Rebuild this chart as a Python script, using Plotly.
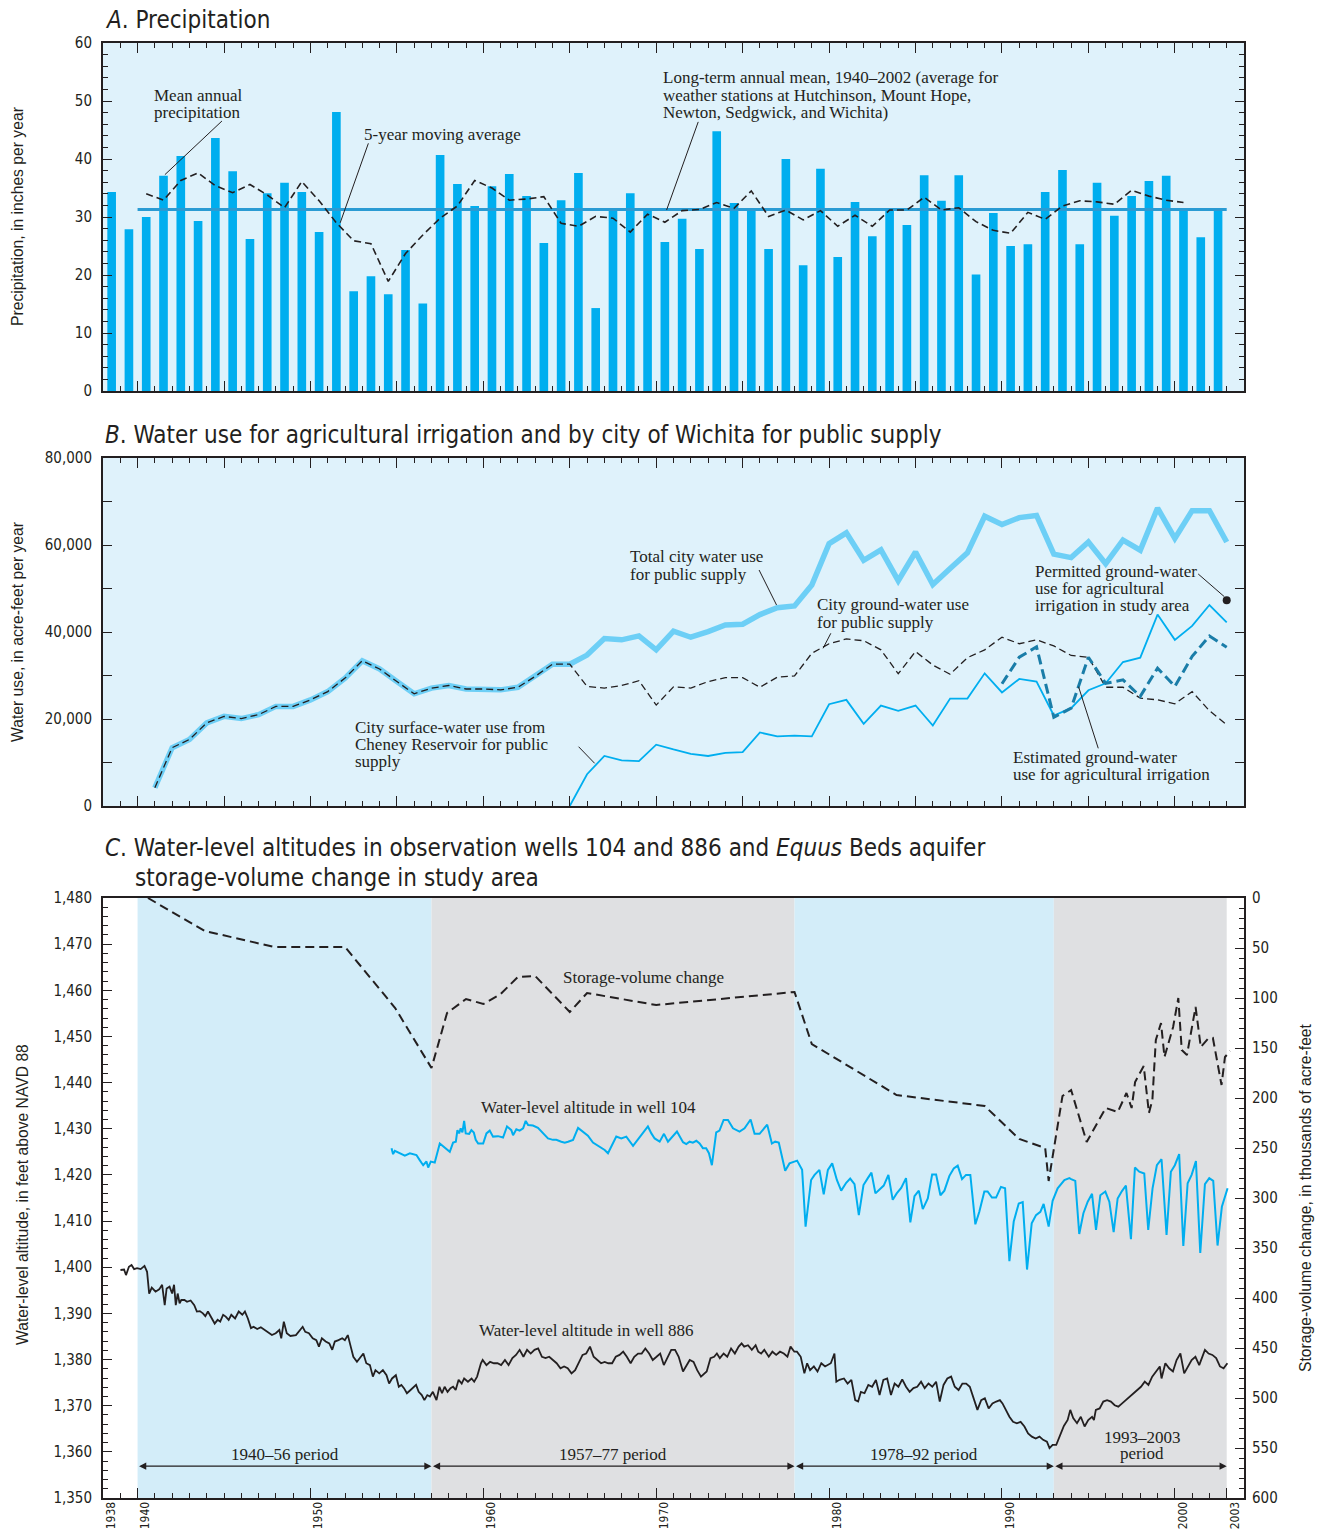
import plotly.graph_objects as go

INK = "#231f20"
COND = "Liberation Sans Narrow, DejaVu Sans Condensed, Arial Narrow, sans-serif"
SERIF = "Liberation Serif, Times New Roman, serif"
SANS = "Liberation Sans, Arial, sans-serif"

# ---------------- Panel A: precipitation ----------------
precip_years = list(range(1938, 2003))
precip_in = [34.3, 27.9, 30.0, 37.1, 40.5, 29.3, 43.6, 37.9, 26.2, 34.1,
             35.9, 34.3, 27.4, 48.1, 17.2, 19.8, 16.7, 24.3, 15.1, 40.7,
             35.7, 31.9, 35.3, 37.4, 33.6, 25.5, 32.9, 37.6, 14.3, 31.3,
             34.1, 31.3, 25.7, 29.7, 24.5, 44.8, 32.4, 31.2, 24.5, 40.0,
             21.7, 38.3, 23.1, 32.6, 26.7, 31.2, 28.6, 37.2, 32.8, 37.2,
             20.1, 30.7, 25.0, 25.3, 34.3, 38.1, 25.3, 35.9, 30.2, 33.6,
             36.2, 37.1, 31.2, 26.5, 31.2]
ma_years = list(range(1940, 2001))
ma_in = [34.0, 32.9, 36.3, 37.6, 35.4, 34.2, 35.6, 33.8, 31.6, 36.1,
         32.8, 29.0, 25.9, 25.4, 18.9, 23.7, 26.9, 29.8, 31.9, 36.3,
         35.0, 32.9, 33.1, 33.5, 28.9, 28.4, 30.1, 29.8, 27.4, 30.5,
         29.1, 31.1, 31.3, 32.5, 31.5, 34.5, 30.1, 31.2, 29.5, 31.1,
         28.4, 30.3, 28.4, 31.2, 31.2, 33.4, 31.2, 31.6, 29.2, 27.7,
         27.2, 30.8, 29.6, 31.9, 32.8, 32.6, 32.2, 34.6, 33.6, 32.9, 32.5]
mean_years = [1940, 2003]
mean_value = 31.3

# ---------------- Panel B: water use ----------------
city_years = list(range(1941, 2004))
total_city = [4200, 13400, 15300, 19100, 20600, 20100, 21000, 22900, 22900, 24400,
              26300, 29400, 33400, 31500, 28600, 25800, 27100, 27700, 26900, 26900,
              26700, 27300, 29800, 32600, 32600, 34700, 38500, 38200, 39100, 35900,
              40200, 38800, 40100, 41600, 41800, 44000, 45600, 46000, 50800, 60300,
              62800, 56500, 58900, 51800, 58400, 50900, 54600, 58200, 66600, 64700,
              66300, 66800, 57900, 57100, 60700, 55700, 61100, 58800, 68500, 61500,
              67900, 67900, 60700]
gw_city = [4200, 13400, 15300, 19100, 20600, 20100, 21000, 22900, 22900, 24400,
           26300, 29400, 33400, 31500, 28600, 25800, 27100, 27700, 26900, 26900,
           26700, 27300, 29800, 32600, 32600, 27500, 27100, 27700, 28800, 23200,
           27400, 27100, 28600, 29500, 29500, 27300, 29600, 29900, 35100, 37300,
           38400, 38000, 35900, 30400, 35500, 32400, 30300, 34100, 35900, 38800,
           37300, 38200, 36800, 34600, 34200, 27300, 27300, 24800, 24400, 23500,
           26300, 21900, 18700]
sw_years = list(range(1965, 2004))
sw_city = [0, 7300, 11500, 10500, 10300, 14100, 13000, 12000, 11500, 12200,
           12400, 16900, 16000, 16200, 16000, 23400, 24400, 18900, 23100, 21900,
           23100, 18500, 24700, 24700, 30500, 26100, 29200, 28600, 20800, 22500,
           26600, 28200, 33100, 34100, 44000, 38200, 41400, 46200, 42200]
irr_years = list(range(1990, 2004))
irr_est = [28100, 34200, 36600, 20400, 22500, 34200, 28200, 29000, 25200, 31700,
           27500, 34400, 39100, 36500]
permit_years = [2003]
permit_val = [47300]

# ---------------- Panel C: water levels & storage ----------------
well104 = [
    (1954.69, 1425.8), (1954.78, 1424.5), (1954.88, 1425.2), (1955.17, 1424.7), (1955.46, 1424.2),
    (1955.75, 1424.7), (1956.13, 1424.3), (1956.32, 1423.2), (1956.52, 1422.1), (1956.71, 1422.9),
    (1956.81, 1421.6), (1956.96, 1422.9), (1957.19, 1422.7), (1957.48, 1426.8), (1957.77, 1425.8),
    (1958.06, 1425.0), (1958.25, 1427.0), (1958.41, 1427.2), (1958.50, 1429.7), (1958.60, 1429.0),
    (1958.69, 1430.1), (1958.79, 1429.2), (1958.89, 1431.7), (1958.98, 1429.0), (1959.18, 1428.9),
    (1959.31, 1429.7), (1959.45, 1429.2), (1959.56, 1427.6), (1959.70, 1426.8), (1959.99, 1426.8),
    (1960.18, 1429.0), (1960.37, 1429.6), (1960.56, 1428.3), (1960.85, 1428.4), (1961.14, 1428.1),
    (1961.37, 1430.5), (1961.62, 1429.7), (1961.72, 1428.6), (1961.91, 1429.9), (1962.10, 1429.6),
    (1962.30, 1430.1), (1962.45, 1431.7), (1962.59, 1430.8), (1962.87, 1430.7), (1963.16, 1430.2),
    (1963.45, 1429.0), (1963.74, 1427.9), (1964.03, 1427.6), (1964.22, 1427.6), (1964.51, 1427.2),
    (1964.71, 1427.0), (1964.90, 1427.2), (1965.19, 1427.6), (1965.48, 1430.2), (1965.77, 1429.4),
    (1966.05, 1428.5), (1966.34, 1427.0), (1966.73, 1426.0), (1967.02, 1425.4), (1967.21, 1424.7),
    (1967.69, 1428.3), (1967.98, 1427.9), (1968.27, 1428.3), (1968.66, 1426.3), (1968.94, 1427.6),
    (1969.23, 1428.9), (1969.52, 1430.5), (1969.72, 1429.0), (1969.91, 1427.9), (1970.20, 1427.2),
    (1970.45, 1428.9), (1970.68, 1427.2), (1970.97, 1428.5), (1971.20, 1429.4), (1971.55, 1427.1),
    (1971.74, 1426.7), (1971.93, 1427.2), (1972.12, 1427.0), (1972.32, 1427.4), (1972.51, 1426.8),
    (1972.70, 1425.8), (1972.89, 1425.8), (1973.05, 1424.7), (1973.22, 1422.1), (1973.47, 1429.2),
    (1973.66, 1429.6), (1973.90, 1431.9), (1974.15, 1431.9), (1974.44, 1430.1), (1974.82, 1429.4),
    (1975.11, 1430.1), (1975.46, 1432.0), (1975.69, 1428.9), (1975.98, 1428.9), (1976.42, 1430.9),
    (1976.69, 1426.8), (1976.88, 1427.2), (1977.09, 1427.0), (1977.46, 1420.9), (1977.71, 1422.5),
    (1978.15, 1423.1), (1978.44, 1421.1), (1978.64, 1408.8), (1978.96, 1418.9), (1979.16, 1420.0),
    (1979.44, 1421.1), (1979.69, 1415.8), (1979.93, 1421.1), (1980.18, 1422.5), (1980.45, 1418.9),
    (1980.70, 1416.6), (1980.99, 1418.3), (1981.22, 1419.2), (1981.47, 1418.0), (1981.72, 1411.3),
    (1981.99, 1417.8), (1982.24, 1419.3), (1982.45, 1420.5), (1982.68, 1416.0), (1982.91, 1416.9),
    (1983.16, 1417.7), (1983.43, 1420.0), (1983.68, 1414.6), (1983.91, 1416.0), (1984.17, 1417.2),
    (1984.45, 1419.3), (1984.70, 1409.7), (1984.94, 1415.4), (1985.19, 1416.6), (1985.42, 1412.6),
    (1985.71, 1414.9), (1985.96, 1420.1), (1986.19, 1420.1), (1986.44, 1415.6), (1986.67, 1416.6),
    (1986.96, 1419.8), (1987.21, 1421.4), (1987.44, 1422.0), (1987.69, 1419.1), (1987.92, 1420.0),
    (1988.17, 1420.0), (1988.46, 1409.3), (1988.69, 1412.0), (1988.98, 1416.4), (1989.17, 1416.4),
    (1989.42, 1415.1), (1989.66, 1415.1), (1989.94, 1417.4), (1990.18, 1417.1), (1990.43, 1401.3),
    (1990.68, 1409.9), (1990.97, 1413.8), (1991.20, 1414.1), (1991.45, 1399.5), (1991.72, 1409.5),
    (1991.97, 1411.3), (1992.22, 1412.0), (1992.41, 1413.7), (1992.70, 1408.8), (1992.93, 1414.4),
    (1993.22, 1417.1), (1993.61, 1418.9), (1993.90, 1419.3), (1994.00, 1419.1), (1994.24, 1418.7),
    (1994.47, 1407.2), (1994.71, 1411.7), (1994.96, 1414.2), (1995.21, 1415.9), (1995.44, 1408.1),
    (1995.69, 1415.6), (1995.98, 1416.4), (1996.21, 1414.2), (1996.46, 1407.6), (1996.69, 1414.9),
    (1996.94, 1416.5), (1997.17, 1417.7), (1997.46, 1406.1), (1997.69, 1421.6), (1997.94, 1420.7),
    (1998.23, 1420.3), (1998.46, 1408.1), (1998.71, 1417.1), (1998.96, 1422.1), (1999.23, 1423.4),
    (1999.52, 1407.0), (1999.77, 1420.7), (2000.00, 1422.1), (2000.25, 1424.5), (2000.49, 1404.6),
    (2000.74, 1418.2), (2000.97, 1420.0), (2001.22, 1423.0), (2001.47, 1403.1), (2001.74, 1418.0),
    (2001.99, 1419.3), (2002.22, 1418.7), (2002.47, 1404.7), (2002.72, 1413.1), (2003.05, 1417.1)]

well886 = [
    (1939.01, 1399.4), (1939.22, 1399.5), (1939.33, 1398.3), (1939.50, 1400.1), (1939.65, 1400.5),
    (1939.80, 1399.6), (1939.97, 1399.8), (1940.18, 1399.6), (1940.40, 1400.3), (1940.55, 1399.0),
    (1940.67, 1394.3), (1940.82, 1395.6), (1941.04, 1394.7), (1941.25, 1395.2), (1941.42, 1396.2),
    (1941.57, 1391.8), (1941.68, 1395.4), (1941.85, 1395.8), (1942.00, 1394.3), (1942.11, 1396.2),
    (1942.21, 1391.8), (1942.32, 1394.3), (1942.43, 1392.2), (1942.53, 1392.9), (1942.71, 1392.9),
    (1942.86, 1392.5), (1943.07, 1392.8), (1943.28, 1391.8), (1943.43, 1390.4), (1943.60, 1390.5),
    (1943.78, 1390.0), (1943.92, 1389.4), (1944.07, 1390.4), (1944.25, 1389.3), (1944.46, 1387.8),
    (1944.63, 1388.6), (1944.78, 1388.2), (1944.95, 1389.7), (1945.10, 1389.3), (1945.27, 1388.6),
    (1945.42, 1389.7), (1945.64, 1388.9), (1945.85, 1390.4), (1946.06, 1389.7), (1946.21, 1390.4),
    (1946.38, 1388.9), (1946.56, 1386.8), (1946.71, 1387.1), (1946.92, 1386.6), (1947.13, 1387.0),
    (1947.35, 1386.4), (1947.56, 1385.7), (1947.77, 1385.3), (1947.99, 1385.7), (1948.20, 1386.4),
    (1948.31, 1384.6), (1948.46, 1388.2), (1948.63, 1385.7), (1948.84, 1385.1), (1949.16, 1385.3),
    (1949.38, 1386.4), (1949.55, 1387.1), (1949.70, 1386.0), (1949.91, 1385.7), (1950.13, 1384.6),
    (1950.34, 1384.2), (1950.49, 1382.8), (1950.66, 1384.6), (1950.88, 1383.9), (1951.09, 1383.5),
    (1951.26, 1382.1), (1951.41, 1383.9), (1951.62, 1384.2), (1951.84, 1384.6), (1951.99, 1384.2),
    (1952.16, 1385.3), (1952.33, 1382.8), (1952.48, 1380.6), (1952.69, 1379.5), (1952.91, 1380.6),
    (1953.06, 1381.3), (1953.23, 1379.2), (1953.44, 1378.8), (1953.61, 1376.3), (1953.76, 1377.7),
    (1953.98, 1377.0), (1954.19, 1377.7), (1954.40, 1376.6), (1954.55, 1374.8), (1954.72, 1375.9),
    (1954.94, 1376.6), (1955.11, 1374.1), (1955.26, 1374.5), (1955.41, 1373.8), (1955.58, 1372.7),
    (1955.79, 1373.4), (1955.97, 1374.1), (1956.11, 1374.5), (1956.26, 1373.0), (1956.44, 1372.3),
    (1956.59, 1371.2), (1956.76, 1372.3), (1956.91, 1372.0), (1957.08, 1373.0), (1957.29, 1371.2),
    (1957.46, 1374.1), (1957.61, 1372.7), (1957.76, 1374.1), (1957.93, 1373.0), (1958.10, 1373.8),
    (1958.25, 1374.1), (1958.40, 1373.4), (1958.57, 1375.6), (1958.75, 1374.8), (1958.89, 1375.9),
    (1959.11, 1375.2), (1959.32, 1375.9), (1959.47, 1375.2), (1959.64, 1376.3), (1959.86, 1379.2),
    (1959.96, 1379.9), (1960.18, 1378.8), (1960.39, 1379.5), (1960.61, 1379.2), (1960.82, 1379.2),
    (1961.03, 1378.8), (1961.25, 1379.9), (1961.46, 1378.8), (1961.68, 1380.3), (1961.89, 1381.0),
    (1962.10, 1382.1), (1962.32, 1380.6), (1962.53, 1382.1), (1962.74, 1381.3), (1962.96, 1382.1),
    (1963.17, 1382.4), (1963.39, 1380.6), (1963.60, 1380.3), (1963.81, 1380.6), (1964.03, 1379.9),
    (1964.24, 1379.2), (1964.46, 1378.1), (1964.67, 1378.5), (1964.88, 1378.1), (1965.10, 1377.0),
    (1965.31, 1377.7), (1965.52, 1379.5), (1965.74, 1381.0), (1965.95, 1381.3), (1966.17, 1382.8),
    (1966.38, 1380.6), (1966.59, 1379.9), (1966.81, 1379.2), (1967.02, 1379.5), (1967.23, 1379.2),
    (1967.45, 1379.2), (1967.66, 1380.6), (1967.88, 1381.0), (1968.09, 1381.7), (1968.30, 1380.6),
    (1968.52, 1379.2), (1968.73, 1380.6), (1968.95, 1381.3), (1969.16, 1381.3), (1969.37, 1382.4),
    (1969.59, 1381.3), (1969.80, 1379.9), (1970.02, 1380.6), (1970.23, 1381.3), (1970.44, 1378.8),
    (1970.66, 1380.6), (1970.87, 1382.1), (1971.09, 1382.1), (1971.30, 1380.6), (1971.55, 1377.4),
    (1971.72, 1378.5), (1971.94, 1379.9), (1972.16, 1379.5), (1972.37, 1377.7), (1972.59, 1376.3),
    (1972.77, 1377.0), (1972.92, 1377.4), (1973.14, 1380.3), (1973.35, 1380.6), (1973.51, 1381.3),
    (1973.68, 1380.3), (1973.90, 1381.3), (1974.11, 1380.6), (1974.33, 1382.4), (1974.55, 1381.3),
    (1974.77, 1382.8), (1974.94, 1383.5), (1975.09, 1382.8), (1975.31, 1383.1), (1975.53, 1382.1),
    (1975.75, 1383.1), (1975.90, 1381.7), (1976.07, 1381.3), (1976.25, 1382.1), (1976.51, 1380.6),
    (1976.72, 1381.7), (1976.94, 1381.0), (1977.16, 1381.7), (1977.38, 1381.3), (1977.59, 1380.6),
    (1977.77, 1382.8), (1977.99, 1381.7), (1978.14, 1381.7), (1978.36, 1380.6), (1978.57, 1377.0),
    (1978.73, 1379.2), (1978.90, 1377.7), (1979.12, 1378.5), (1979.33, 1377.4), (1979.55, 1379.2),
    (1979.77, 1378.5), (1980.10, 1379.2), (1980.31, 1381.3), (1980.42, 1375.2), (1980.60, 1375.6),
    (1980.86, 1375.9), (1981.07, 1374.8), (1981.29, 1375.6), (1981.51, 1371.2), (1981.68, 1370.9),
    (1981.84, 1373.0), (1982.05, 1372.7), (1982.27, 1374.5), (1982.49, 1374.1), (1982.71, 1375.6),
    (1982.92, 1372.3), (1983.14, 1375.6), (1983.36, 1375.9), (1983.58, 1372.3), (1983.79, 1374.8),
    (1984.01, 1374.1), (1984.23, 1375.7), (1984.45, 1374.1), (1984.66, 1373.0), (1984.88, 1373.8),
    (1985.10, 1374.1), (1985.32, 1375.2), (1985.53, 1373.8), (1985.75, 1374.8), (1985.97, 1374.1),
    (1986.19, 1375.2), (1986.40, 1370.9), (1986.62, 1374.5), (1986.84, 1375.9), (1987.06, 1376.3),
    (1987.27, 1374.1), (1987.49, 1373.4), (1987.71, 1374.8), (1987.93, 1374.8), (1988.14, 1374.1),
    (1988.36, 1371.6), (1988.58, 1369.1), (1988.80, 1371.2), (1989.01, 1371.6), (1989.23, 1369.4),
    (1989.45, 1370.5), (1989.67, 1370.9), (1989.88, 1371.2), (1990.03, 1370.5), (1990.21, 1369.1),
    (1990.43, 1367.6), (1990.64, 1366.5), (1990.86, 1366.2), (1991.08, 1366.5), (1991.30, 1365.5),
    (1991.51, 1364.0), (1991.73, 1363.3), (1991.95, 1362.9), (1992.17, 1363.3), (1992.38, 1362.6),
    (1992.60, 1362.2), (1992.75, 1360.8), (1992.93, 1361.5), (1993.14, 1361.5), (1993.36, 1363.6),
    (1993.58, 1365.6), (1993.80, 1366.9), (1993.95, 1369.1), (1994.12, 1367.3), (1994.34, 1366.2),
    (1994.56, 1367.6), (1994.78, 1365.5), (1994.99, 1366.9), (1995.21, 1367.6), (1995.32, 1366.9),
    (1995.43, 1369.1), (1995.65, 1369.4), (1995.86, 1370.9), (1996.08, 1371.2), (1996.30, 1370.9),
    (1996.52, 1370.1), (1996.73, 1369.8), (1996.95, 1370.5), (1997.17, 1371.2), (1997.39, 1372.0),
    (1997.60, 1372.7), (1997.82, 1373.4), (1998.04, 1374.1), (1998.26, 1375.2), (1998.47, 1374.5),
    (1998.69, 1376.3), (1998.91, 1377.4), (1999.13, 1378.5), (1999.23, 1375.9), (1999.45, 1379.2),
    (1999.67, 1378.1), (1999.89, 1377.4), (2000.10, 1379.9), (2000.32, 1381.3), (2000.54, 1377.0),
    (2000.76, 1378.5), (2000.97, 1379.9), (2001.19, 1380.6), (2001.41, 1378.8), (2001.74, 1382.1),
    (2001.95, 1381.3), (2002.17, 1381.0), (2002.39, 1380.3), (2002.61, 1378.5), (2002.82, 1378.1),
    (2003.04, 1379.2)]

storage = [
    (1940.6, 0), (1943.9, 33), (1947.9, 49), (1952.0, 49), (1954.9, 110), (1957.0, 170),
    (1957.9, 115), (1959.0, 101), (1960.0, 106), (1961.0, 96), (1962.0, 79), (1963.0, 78),
    (1965.0, 114), (1966.0, 95), (1970.0, 107), (1978.0, 94), (1979.0, 146), (1983.9, 197),
    (1989.0, 208), (1991.0, 241), (1992.5, 250), (1992.7, 283), (1993.5, 198), (1994.0, 192),
    (1994.9, 244), (1996.0, 210), (1996.7, 214), (1997.2, 195), (1997.5, 210), (1997.7, 184),
    (1998.2, 168), (1998.5, 215), (1998.7, 202), (1998.9, 142), (1999.2, 125), (1999.4, 159),
    (1999.9, 129), (2000.2, 100), (2000.4, 152), (2000.7, 157), (2001.2, 109), (2001.5, 149),
    (2001.9, 141), (2002.2, 140), (2002.7, 187), (2002.9, 159), (2003.2, 153)]

periods = [(1940, 1957, "1940\u201356 period"), (1957, 1978, "1957\u201377 period"),
           (1978, 1993, "1978\u201392 period"), (1993, 2003, "1993\u20132003")]
period_fill = ["#d3edf9", "#dfe0e2", "#d3edf9", "#dfe0e2"]
c_tick_years = [1938, 1940, 1950, 1960, 1970, 1980, 1990, 2000, 2003]

# ---------------- Figure ----------------
fig = go.Figure()

# Panel A
fig.add_trace(go.Bar(x=[y + 0.5 for y in precip_years], y=precip_in, width=0.5,
                     marker=dict(color="#00aeef", line=dict(width=0)),
                     xaxis="x", yaxis="y"))
fig.add_trace(go.Scatter(x=mean_years, y=[mean_value, mean_value], mode="lines",
                         line=dict(color="#2a9bd3", width=3), xaxis="x", yaxis="y"))
fig.add_trace(go.Scatter(x=[y + 0.5 for y in ma_years], y=ma_in, mode="lines",
                         line=dict(color=INK, width=1.6, dash="7px,4px"), xaxis="x", yaxis="y"))

# Panel B
fig.add_trace(go.Scatter(x=city_years, y=total_city, mode="lines",
                         line=dict(color="#6dcff6", width=5.5), xaxis="x2", yaxis="y2"))
fig.add_trace(go.Scatter(x=city_years, y=gw_city, mode="lines",
                         line=dict(color=INK, width=1.3, dash="7px,4px"), xaxis="x2", yaxis="y2"))
fig.add_trace(go.Scatter(x=sw_years, y=sw_city, mode="lines",
                         line=dict(color="#00aeef", width=1.8), xaxis="x2", yaxis="y2"))
fig.add_trace(go.Scatter(x=irr_years, y=irr_est, mode="lines",
                         line=dict(color="#1a7da8", width=3, dash="10px,5px"), xaxis="x2", yaxis="y2"))
fig.add_trace(go.Scatter(x=permit_years, y=permit_val, mode="markers",
                         marker=dict(color=INK, size=8), xaxis="x2", yaxis="y2"))

# Panel C
fig.add_trace(go.Scatter(x=[p[0] for p in well886], y=[p[1] for p in well886], mode="lines",
                         line=dict(color=INK, width=1.8), xaxis="x3", yaxis="y3"))
fig.add_trace(go.Scatter(x=[p[0] for p in well104], y=[p[1] for p in well104], mode="lines",
                         line=dict(color="#00aeef", width=2), xaxis="x3", yaxis="y3"))
fig.add_trace(go.Scatter(x=[p[0] for p in storage], y=[p[1] for p in storage], mode="lines",
                         line=dict(color=INK, width=2, dash="9px,5px"), xaxis="x3", yaxis="y4"))

tickfont = dict(family=COND, size=15, color=INK)
common_ax = dict(showline=True, linecolor=INK, linewidth=2, showgrid=False, zeroline=False,
                 ticks="inside", tickcolor=INK, tickwidth=1.2, automargin=False)

def top_x(anchor):
    return dict(common_ax, domain=[0, 1], anchor=anchor, range=[1938, 2004], mirror="ticks",
                tickvals=list(range(1940, 2004, 5)), ticklen=10, showticklabels=False,
                minor=dict(ticks="inside", tick0=1938, dtick=1, ticklen=5, tickcolor=INK,
                           tickwidth=1.2, showgrid=False))

y_a = (1498 - 391) / 1455
y_b0 = (1498 - 806) / 1455
y_b1 = (1498 - 458) / 1455
y_c1 = (1498 - 898) / 1455

fig.update_layout(
    width=1322, height=1533, autosize=False,
    margin=dict(l=103, r=78, t=43, b=35, autoexpand=False),
    paper_bgcolor="white", plot_bgcolor="white",
    showlegend=False,
    font=dict(family=COND, color=INK),
    xaxis=top_x("y"),
    yaxis=dict(common_ax, domain=[y_a, 1], anchor="x", range=[0, 60], dtick=10, ticklen=9,
               mirror="ticks", tickfont=tickfont, ticklabelstandoff=6,
               minor=dict(ticks="inside", dtick=2, ticklen=5, tickcolor=INK, tickwidth=1.2)),
    xaxis2=top_x("y2"),
    yaxis2=dict(common_ax, domain=[y_b0, y_b1], anchor="x2", range=[0, 80000], dtick=20000,
                tickformat=",", ticklen=9, mirror="ticks", tickfont=tickfont, ticklabelstandoff=6,
                minor=dict(ticks="inside", dtick=10000, ticklen=9, tickcolor=INK, tickwidth=1.2)),
    xaxis3=dict(common_ax, domain=[0, 1], anchor="y3", range=[1938, 2004], mirror=True,
                tickvals=c_tick_years, ticktext=[str(v) for v in c_tick_years], ticklen=10,
                tickangle=-90, tickfont=dict(family=COND, size=12, color=INK),
                ticklabelshift=8, ticklabelstandoff=-3,
                minor=dict(ticks="inside", tick0=1938, dtick=1, ticklen=5, tickcolor=INK,
                           tickwidth=1.2, showgrid=False)),
    yaxis3=dict(common_ax, domain=[0, y_c1], anchor="x3", range=[1350, 1480], dtick=10,
                tickformat=",", ticklen=9, tickfont=tickfont, ticklabelstandoff=6,
                minor=dict(ticks="inside", dtick=2, ticklen=5, tickcolor=INK, tickwidth=1.2)),
    yaxis4=dict(common_ax, overlaying="y3", anchor="x3", side="right", range=[600, 0], dtick=50,
                ticklen=9, tickfont=tickfont, ticklabelstandoff=3,
                minor=dict(ticks="inside", dtick=10, ticklen=5, tickcolor=INK, tickwidth=1.2)),
)

shapes = []
# Panel backgrounds
for xr, yr in (("x", "y"), ("x2", "y2")):
    shapes.append(dict(type="rect", xref=xr + " domain", yref=yr + " domain", x0=0, x1=1, y0=0, y1=1,
                       fillcolor="#dff2fb", line=dict(width=0), layer="below"))
for (a, b, _), col in zip(periods, period_fill):
    shapes.append(dict(type="rect", xref="x3", yref="y3 domain", x0=a, x1=b, y0=0, y1=1,
                       fillcolor=col, line=dict(width=0), layer="below"))

def leader(xr, yr, x0, y0, x1, y1):
    shapes.append(dict(type="line", xref=xr, yref=yr, x0=x0, y0=y0, x1=x1, y1=y1,
                       line=dict(color=INK, width=1)))

leader("x", "y", 1944.88, 46.55, 1941.58, 37.3)
leader("x", "y", 1953.35, 42.7, 1951.72, 29.0)
leader("x", "y", 1972.43, 46.4, 1970.6, 31.2)
leader("x2", "y2", 1975.95, 54250, 1976.96, 46210)
leader("x2", "y2", 1980.1, 39700, 1979.65, 36250)
leader("x2", "y2", 2001.35, 53340, 2002.86, 48130)
leader("x2", "y2", 1965.51, 13630, 1966.44, 9810)
leader("x2", "y2", 1995.57, 13260, 1994.43, 27420)
fig.update_layout(shapes=shapes)

ann = []

def label(xr, yr, x, y, text, anchor="left", size=17):
    ann.append(dict(xref=xr, yref=yr, x=x, y=y, text=text, showarrow=False, xanchor=anchor,
                    yanchor="middle", font=dict(family=SERIF, size=size, color=INK)))

# Panel A labels
label("x", "y", 1940.83, 51.03, "Mean annual")
label("x", "y", 1940.83, 48.10, "precipitation")
label("x", "y", 1952.97, 44.14, "5-year moving average")
label("x", "y", 1970.25, 53.97, "Long-term annual mean, 1940\u20132002 (average for")
label("x", "y", 1970.25, 51.03, "weather stations at Hutchinson, Mount Hope,")
label("x", "y", 1970.25, 48.10, "Newton, Sedgwick, and Wichita)")
# Panel B labels
label("x2", "y2", 1968.35, 57245, "Total city water use")
label("x2", "y2", 1968.35, 53107, "for public supply")
label("x2", "y2", 1979.21, 46210, "City ground-water use")
label("x2", "y2", 1979.21, 42300, "for public supply")
label("x2", "y2", 1991.82, 53800, "Permitted ground-water")
label("x2", "y2", 1991.82, 49890, "use for agricultural")
label("x2", "y2", 1991.82, 45980, "irrigation in study area")
label("x2", "y2", 1952.45, 18160, "City surface-water use from")
label("x2", "y2", 1952.45, 14250, "Cheney Reservoir for public")
label("x2", "y2", 1952.45, 10120, "supply")
label("x2", "y2", 1990.54, 11265, "Estimated ground-water")
label("x2", "y2", 1990.54, 7357, "use for agricultural irrigation")
# Panel C labels
label("x3", "y3", 1969.27, 1462.7, "Storage-volume change", "center")
label("x3", "y3", 1966.09, 1434.7, "Water-level altitude in well 104", "center")
label("x3", "y3", 1965.98, 1386.4, "Water-level altitude in well 886", "center")
for a, b, t in periods[:3]:
    label("x3", "y3", (a + b) / 2, 1359.5, t, "center")
label("x3", "y3", 1998.1, 1363.2, periods[3][2], "center")
label("x3", "y3", 1998.1, 1359.7, "period", "center")
for a, b, _ in periods:
    ann.append(dict(xref="x3", yref="y3", axref="x3", ayref="y3", x=b, y=1356.9, ax=a, ay=1356.9,
                    text="", showarrow=True, arrowside="end+start", arrowhead=2, startarrowhead=2,
                    arrowsize=1.1, startarrowsize=1.1, arrowwidth=1.3, arrowcolor=INK,
                    standoff=0, startstandoff=0))

# Panel titles
def title(x, y, text):
    ann.append(dict(xref="paper", yref="paper", x=x, y=y, text=text, showarrow=False,
                    xanchor="left", yanchor="middle", font=dict(family=COND, size=24, color=INK)))

title(0, (1498 - 20) / 1455, "<i>A</i>. Precipitation")
title(0, (1498 - 435) / 1455, "<i>B</i>. Water use for agricultural irrigation and by city of Wichita for public supply")
title(0, (1498 - 848) / 1455, "<i>C</i>. Water-level altitudes in observation wells 104 and 886 and <i>Equus</i> Beds aquifer")
title((133 - 103) / 1141, (1498 - 878) / 1455, "storage-volume change in study area")

# Axis titles
def axtitle(x, y, text):
    ann.append(dict(xref="paper", yref="paper", x=x, y=y, text=text, showarrow=False,
                    textangle=-90, xanchor="center", yanchor="middle",
                    font=dict(family=SANS, size=15.7, color=INK)))

axtitle((17 - 103) / 1141, (1498 - 217) / 1455, "Precipitation, in inches per year")
axtitle((17 - 103) / 1141, (1498 - 632) / 1455, "Water use, in acre-feet per year")
axtitle((22 - 103) / 1141, (1498 - 1195) / 1455, "Water-level altitude, in feet above NAVD 88")
axtitle((1305 - 103) / 1141, (1498 - 1198) / 1455, "Storage-volume change, in thousands of acre-feet")

fig.update_layout(annotations=ann)
page_fix = (
    "document.documentElement.style.margin='0';document.documentElement.style.overflow='hidden';"
    "document.body.style.margin='0';document.body.style.overflow='hidden';"
    "var gd=document.querySelector('.plotly-graph-div');"
    "if(gd){gd.style.position='absolute';gd.style.left='0px';gd.style.top='0px';}"
)
fig.write_html("out.html", config={"displayModeBar": False}, post_script=page_fix)
